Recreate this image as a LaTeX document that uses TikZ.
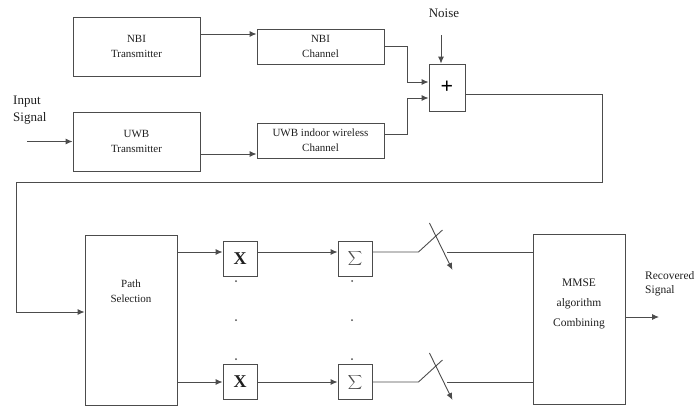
\documentclass[tikz,border=0pt]{standalone}
\usepackage{fontspec}
\setmainfont{Liberation Serif}
\usetikzlibrary{positioning,arrows.meta,calc}
\definecolor{figline}{gray}{0.3}
\definecolor{figtext}{gray}{0.12}
\tikzset{
  fig/.style={font=\fontsize{11}{15}\selectfont,text=figtext},
  box/.style={draw=figline,line width=0.9pt,align=center,inner sep=2pt,
              minimum width=127pt},
  opbox/.style={box,minimum width=34pt,minimum height=35pt,
                font=\fontsize{15}{15}\selectfont},
  ln/.style={draw=figline,line width=0.9pt,-{Latex[length=7pt,width=6pt]}},
  wire/.style={draw=figline,line width=0.9pt},
  lbl/.style={font=\fontsize{13}{17}\selectfont,align=left,inner sep=0pt},
}

\begin{document}
\begin{tikzpicture}[fig,x=1pt,y=-1pt,
  tall/.style={box,minimum width=92pt,minimum height=170pt},
  inner/.style={align=center,inner sep=0pt}]
\useasboundingbox (0,0) rectangle (700,407);

% =======================  TOP: transmitters and channels  ================
\node[box,minimum height=59pt] (ntx) at (136.5,46.5)  {NBI\\Transmitter};
\node[box,minimum height=59pt] (utx) at (136.5,141.5) {UWB\\Transmitter};
\node[box,minimum height=35pt] (nch) at (320.5,46.5)  {NBI\\Channel};
\node[box,minimum height=35pt] (uch) at (320.5,140.5) {UWB indoor wireless\\Channel};
\node[box,minimum width=36pt,minimum height=47pt,text=black,
      font=\fontsize{22}{22}\selectfont\bfseries] (add) at (447,87.5) {+};

\node[lbl,anchor=west] (inp) at (13,110.5) {Input\\Signal};
\node[lbl] (noise) at (444,13) {Noise};

\coordinate (in) at (27,141.5);
\coordinate (nz) at (441,35);
\draw[ln] (in) -- (utx);
\draw[ln] ([yshift=12.5pt]ntx.east) -- ([yshift=12.5pt]ntx.east -| nch.west);
\draw[ln] ([yshift=-12.5pt]utx.east) -- ([yshift=-12.5pt]utx.east -| uch.west);
\draw[ln] (nch.east) -- ++(23,0) |- ([yshift=5.5pt]add.west);
\draw[ln] ([yshift=6.5pt]uch.east) -- ++(23,0) |- ([yshift=-10.5pt]add.west);
\draw[ln] (nz) -- (nz |- add.north);

% =======================  BOTTOM: receiver  ==============================
\node[tall] (ps) at (131,320.5) {};
\node[inner] at ($(ps)+(0,-29)$) {Path\\Selection};
\node[tall] (mm) at (579,319.5) {};
\node[inner,font=\fontsize{11.5}{20}\selectfont] at ($(mm)+(0,-16)$)
     {MMSE\\algorithm\\Combining};

% received signal runs round to the path selection block
\coordinate (c1) at (602,182);
\coordinate (c2) at (16,182);
\draw[ln] ([yshift=-6.5pt]add.east) -| (c1) -- (c2) |- ([yshift=8.5pt]ps.west);

\foreach \i/\yb/\ya in {1/258.5/252,2/382/382}{
  \node[opbox,font=\fontsize{18}{18}\selectfont] (x\i) at (240,\yb) {\textbf{X}};
  \node[opbox,text=figline] (s\i) at (355,\yb) {$\displaystyle\sum$};
  \coordinate (r\i) at (0,\ya);
  \draw[ln] (ps.east |- r\i) -- (x\i.west |- r\i);
  \draw[ln] (x\i.east |- r\i) -- (s\i.west |- r\i);
  % switch
  \draw[wire] (s\i.east |- r\i) -- ++(46,0) -- ++(24,-22);
  \draw[ln] ($(s\i.east |- r\i)+(57,-29)$) -- ++(23,47);
  \draw[wire] ($(s\i.east |- r\i)+(75,0)$) -- (mm.west |- r\i);
}
\foreach \y in {281,320,359}{
  \fill[figline] (236,\y) circle (1pt);
  \fill[figline] (352,\y) circle (1pt);
}

\coordinate (out) at (659,317);
\draw[ln] (mm.east |- out) -- (out);
\node[lbl,anchor=west,font=\fontsize{11.5}{14}\selectfont] (rec) at (645,284)
     {Recovered\\Signal};
\end{tikzpicture}
\end{document}
